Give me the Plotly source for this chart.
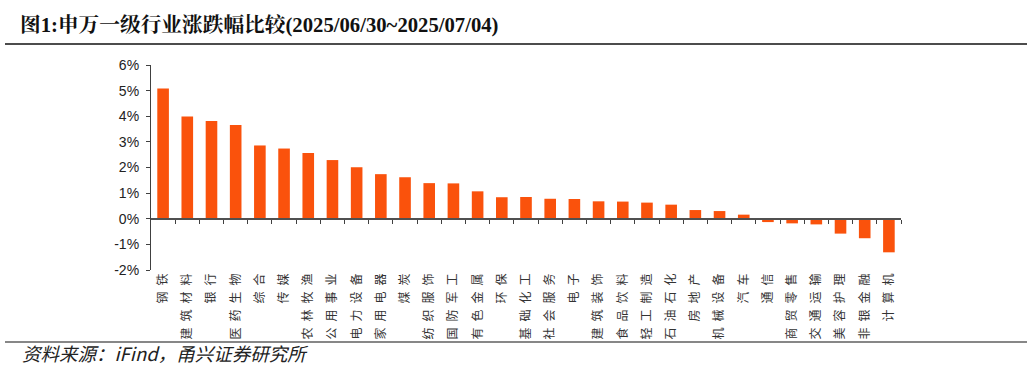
import plotly.graph_objects as go

categories = ["钢铁", "建筑材料", "银行", "医药生物", "综合", "传媒", "农林牧渔", "公用事业",
              "电力设备", "家用电器", "煤炭", "纺织服饰", "国防军工", "有色金属", "环保", "基础化工",
              "社会服务", "电子", "建筑装饰", "食品饮料", "轻工制造", "石油石化", "房地产", "机械设备",
              "汽车", "通信", "商贸零售", "交通运输", "美容护理", "非银金融", "计算机"]
values = [5.08, 3.99, 3.81, 3.66, 2.86, 2.74, 2.57, 2.29, 2.01, 1.74, 1.62, 1.39, 1.38, 1.07,
          0.84, 0.85, 0.78, 0.77, 0.68, 0.67, 0.63, 0.55, 0.34, 0.30, 0.16, -0.13, -0.18, -0.22,
          -0.58, -0.76, -1.31]
y_ticks = [-2, -1, 0, 1, 2, 3, 4, 5, 6]
y_tick_labels = ["-2%", "-1%", "0%", "1%", "2%", "3%", "4%", "5%", "6%"]
title_text = "图1:申万一级行业涨跌幅比较(2025/06/30~2025/07/04)"
source_text = "资料来源：iFind，甬兴证券研究所"

x_idx = list(range(len(categories)))
tick_text = ["\u2002".join(list(c)) for c in categories]
boundaries = [i + 0.5 for i in x_idx]

fig = go.Figure()
fig.add_trace(go.Bar(
    x=x_idx, y=values, width=0.48, xaxis="x", yaxis="y",
    marker=dict(color="#FA520C", line=dict(width=0)),
    hoverinfo="skip",
))
# invisible helper so that the zero-positioned axis (line + boundary ticks) is drawn
fig.add_trace(go.Scatter(
    x=x_idx, y=values, xaxis="x2", yaxis="y", mode="markers",
    marker=dict(opacity=0), hoverinfo="skip",
))

fig.update_layout(
    width=1032, height=367,
    margin=dict(l=151, r=131, t=65, b=97),
    paper_bgcolor="white", plot_bgcolor="white",
    showlegend=False,
    xaxis=dict(
        range=[-0.5, len(categories) - 0.5], anchor="y",
        tickmode="array", tickvals=x_idx, ticktext=tick_text,
        tickangle=-90, showline=False, showgrid=False, zeroline=False,
        ticks="", tickfont=dict(family="Noto Sans CJK SC", size=12, color="#333333"),
    ),
    xaxis2=dict(
        overlaying="x", anchor="free", position=0.25, side="bottom",
        range=[-0.5, len(categories) - 0.5],
        tickmode="array", tickvals=boundaries, showticklabels=False,
        ticks="outside", ticklen=4, tickwidth=1.2, tickcolor="#404040",
        showline=True, linecolor="#505050", linewidth=1.5,
        showgrid=False, zeroline=False, layer="above traces",
    ),
    yaxis=dict(
        range=[-2, 6], tickmode="array", tickvals=y_ticks, ticktext=y_tick_labels,
        showline=True, linecolor="#404040", linewidth=1.2,
        ticks="outside", ticklen=4, tickcolor="#404040", tickwidth=1.2,
        showgrid=False, zeroline=False,
        tickfont=dict(family="Liberation Sans, Arial", size=14, color="#222222"),
        ticklabelstandoff=4,
    ),
    font=dict(family="Noto Sans CJK SC"),
)

fig.add_annotation(
    text="<b>" + title_text + "</b>", xref="paper", yref="paper",
    x=-151 / 750 + 18 / 750, y=1 + (65 - 25) / 205,
    xanchor="left", yanchor="middle", showarrow=False,
    font=dict(family="Liberation Serif, Noto Serif CJK SC, Noto Sans CJK SC", size=20.7, color="#111111"),
)
fig.add_annotation(
    text="<i>" + source_text + "</i>", xref="paper", yref="paper",
    x=-151 / 750 + 20 / 750, y=-(353 - 270) / 205,
    xanchor="left", yanchor="middle", showarrow=False,
    font=dict(family="Noto Sans CJK SC", size=18.5, color="#222222"),
)
fig.add_shape(type="line", xref="paper", yref="paper",
              x0=-146 / 750, x1=(1027 - 151) / 750,
              y0=1 + (65 - 44) / 205, y1=1 + (65 - 44) / 205,
              line=dict(color="#111111", width=1.6))
fig.add_shape(type="line", xref="paper", yref="paper",
              x0=-146 / 750, x1=(1027 - 151) / 750,
              y0=-(342 - 270) / 205, y1=-(342 - 270) / 205,
              line=dict(color="#111111", width=1.2))

fig.write_html("out.html")
